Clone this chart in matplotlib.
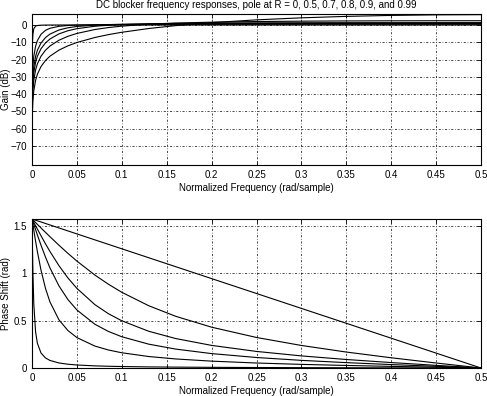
import matplotlib
matplotlib.use("Agg")
import matplotlib.pyplot as plt
import numpy as np

nan = np.nan

# normalized frequency samples (cycles/sample)
freq = [0.0, 0.00015, 0.0005, 0.001, 0.002, 0.004, 0.006, 0.01, 0.015, 0.02,
        0.03, 0.04, 0.05, 0.07, 0.085, 0.1, 0.13, 0.16, 0.2, 0.25, 0.3, 0.35,
        0.4, 0.45, 0.5]

# gain (dB) for pole at R = 0, 0.5, 0.7, 0.8, 0.9, 0.99
gain_r0 = [nan, -60.51, -50.06, -44.04, -38.02, -32.00, -28.47, -24.04, -20.52,
           -18.02, -14.51, -12.02, -10.09, -7.20, -5.55, -4.18, -2.00, -0.32,
           1.40, 3.01, 4.18, 5.02, 5.58, 5.91, 6.02]
gain_r05 = [nan, -54.49, -44.04, -38.02, -32.00, -25.99, -22.46, -18.05, -14.57,
            -12.13, -8.78, -6.51, -4.85, -2.58, -1.45, -0.62, 0.48, 1.14, 1.67,
            2.04, 2.25, 2.38, 2.45, 2.49, 2.50]
gain_r07 = [nan, -50.05, -39.60, -33.58, -27.56, -21.56, -18.06, -13.71, -10.35,
            -8.07, -5.11, -3.29, -2.09, -0.69, -0.10, 0.29, 0.74, 0.99, 1.16,
            1.28, 1.34, 1.38, 1.39, 1.41, 1.41]
gain_r08 = [nan, -46.53, -36.08, -30.06, -24.05, -18.07, -14.61, -10.39, -7.25,
            -5.23, -2.85, -1.57, -0.82, -0.04, 0.25, 0.44, 0.64, 0.74, 0.81,
            0.86, 0.89, 0.90, 0.91, 0.91, 0.92]
gain_r09 = [nan, -40.51, -30.06, -24.06, -18.08, -12.24, -8.99, -5.36, -3.07,
            -1.86, -0.73, -0.25, -0.01, 0.21, 0.29, 0.33, 0.38, 0.41, 0.42,
            0.43, 0.44, 0.44, 0.44, 0.44, 0.45]
gain_r099 = [nan, -20.55, -10.46, -5.47, -2.11, -0.61, -0.25, -0.07, -0.01,
             0.02, 0.03, 0.04, 0.04, 0.04, 0.04, 0.04, 0.04, 0.04, 0.04, 0.04,
             0.04, 0.04, 0.04, 0.04, 0.04]

# phase shift (rad)
phase_r0 = [1.5708, 1.5703, 1.5692, 1.5677, 1.5645, 1.5582, 1.5520, 1.5394,
            1.5237, 1.5080, 1.4766, 1.4451, 1.4137, 1.3509, 1.3038, 1.2566,
            1.1624, 1.0681, 0.9425, 0.7854, 0.6283, 0.4712, 0.3142, 0.1571, 0.0]
phase_r05 = [1.5708, 1.5694, 1.5661, 1.5614, 1.5520, 1.5331, 1.5143, 1.4768,
             1.4303, 1.3842, 1.2945, 1.2085, 1.1272, 0.9801, 0.8836, 0.7982,
             0.6564, 0.5451, 0.4302, 0.3218, 0.2376, 0.1682, 0.1079, 0.0528, 0.0]
phase_r07 = [1.5708, 1.5681, 1.5619, 1.5530, 1.5352, 1.4997, 1.4644, 1.3946,
             1.3097, 1.2283, 1.0790, 0.9495, 0.8394, 0.6683, 0.5729, 0.4976,
             0.3872, 0.3106, 0.2383, 0.1747, 0.1275, 0.0897, 0.0573, 0.0279, 0.0]
phase_r08 = [1.5708, 1.5666, 1.5567, 1.5425, 1.5143, 1.4582, 1.4027, 1.2952,
             1.1694, 1.0556, 0.8659, 0.7214, 0.6118, 0.4613, 0.3858, 0.3295,
             0.2513, 0.1994, 0.1518, 0.1107, 0.0805, 0.0566, 0.0361, 0.0176, 0.0]
phase_r09 = [1.5708, 1.5619, 1.5410, 1.5112, 1.4520, 1.3364, 1.2269, 1.0325,
             0.8402, 0.6966, 0.5080, 0.3948, 0.3208, 0.2313, 0.1901, 0.1606,
             0.1210, 0.0954, 0.0723, 0.0526, 0.0382, 0.0268, 0.0171, 0.0083, 0.0]
phase_r099 = [1.5708, 1.4773, 1.2678, 1.0120, 0.6746, 0.3804, 0.2605, 0.1586,
              0.1062, 0.0797, 0.0531, 0.0398, 0.0317, 0.0225, 0.0184, 0.0155,
              0.0116, 0.0092, 0.0069, 0.0050, 0.0036, 0.0026, 0.0016, 0.0008, 0.0]

x_ticks = [0, 0.05, 0.1, 0.15, 0.2, 0.25, 0.3, 0.35, 0.4, 0.45, 0.5]
x_tick_labels = ["0", "0.05", "0.1", "0.15", "0.2", "0.25", "0.3", "0.35",
                 "0.4", "0.45", "0.5"]
gain_ticks = [-70, -60, -50, -40, -30, -20, -10, 0]
phase_ticks = [0, 0.5, 1, 1.5]
phase_tick_labels = ["0", "0.5", "1", "1.5"]

plt.rcParams["font.family"] = ["Liberation Sans", "DejaVu Sans"]
plt.rcParams["font.size"] = 7

fig = plt.figure(figsize=(4.87, 3.96), dpi=100)
ax1 = fig.add_axes([32/487, 1 - 165/396, 449/487, 151/396])
ax2 = fig.add_axes([32/487, 1 - 368/396, 449/487, 149/396])

for g in [gain_r0, gain_r05, gain_r07, gain_r08, gain_r09, gain_r099]:
    ax1.plot(freq, g, color="black", lw=0.8)
for p in [phase_r0, phase_r05, phase_r07, phase_r08, phase_r09, phase_r099]:
    ax2.plot(freq, p, color="black", lw=0.8)

ax1.set_xlim(0, 0.5)
ax1.set_ylim(-81, 6.4)
ax1.set_yticks(gain_ticks)
ax1.set_title("DC blocker frequency responses, pole at R = 0, 0.5, 0.7, 0.8, 0.9, and 0.99",
              fontsize=7, pad=4)
ax1.set_ylabel("Gain (dB)")

ax2.set_xlim(0, 0.5)
ax2.set_ylim(0, np.pi / 2)
ax2.set_yticks(phase_ticks)
ax2.set_yticklabels(phase_tick_labels)
ax2.set_ylabel("Phase Shift (rad)")

for ax in (ax1, ax2):
    ax.set_xticks(x_ticks)
    ax.set_xticklabels(x_tick_labels)
    ax.set_xlabel("Normalized Frequency (rad/sample)", labelpad=2)
    ax.yaxis.set_label_coords(-0.046, 0.5)
    ax.grid(True, color="black", lw=0.5, linestyle=(0, (3, 2.5, 1, 2.5)))
    ax.tick_params(direction="in", top=True, right=True, length=3,
                   width=0.6, pad=3.5)
    for s in ax.spines.values():
        s.set_linewidth(0.8)

fig.savefig("out.png", dpi=100)
